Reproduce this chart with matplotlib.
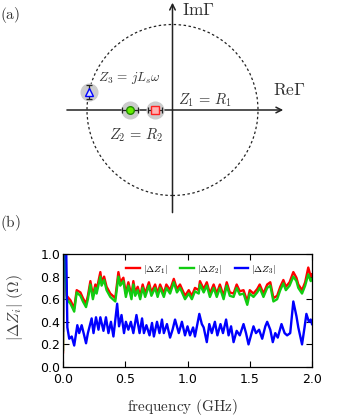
import matplotlib
matplotlib.use("Agg")
import matplotlib.pyplot as plt
from matplotlib.patches import Circle

plt.rcParams['mathtext.fontset'] = 'cm'
plt.rcParams['font.family'] = 'DejaVu Sans'

# (a) reflection coefficients of the three loads
gamma_re = [-0.205, -0.497, -0.977]
gamma_im = [0.0, 0.0, 0.21]
gamma_xerr = [0.08, 0.09, 0.0]
gamma_yerr = [0.0, 0.0, 0.08]
gamma_marker = ['s', 'o', '^']
gamma_face = ['#ffb0b0', '#66ee00', '#d8e0ff']
gamma_edge = ['#ff2020', '#228800', '#0000ff']

# (b) impedance deviation vs frequency
freq_z12 = [0.0, 0.004, 0.012, 0.03, 0.06, 0.09, 0.11, 0.14, 0.16, 0.185,
            0.2, 0.22, 0.24, 0.26, 0.27, 0.3, 0.31, 0.33, 0.35, 0.38,
            0.4, 0.42, 0.445, 0.46, 0.485, 0.505, 0.525, 0.55, 0.565, 0.58,
            0.6, 0.62, 0.64, 0.66, 0.69, 0.71, 0.74, 0.76, 0.78, 0.81,
            0.83, 0.86, 0.89, 0.915, 0.94, 0.98, 1.01, 1.035, 1.06, 1.09,
            1.1, 1.13, 1.155, 1.18, 1.21, 1.235, 1.26, 1.29, 1.315, 1.34,
            1.37, 1.395, 1.42, 1.45, 1.48, 1.5, 1.53, 1.56, 1.58, 1.61,
            1.64, 1.665, 1.69, 1.72, 1.745, 1.77, 1.79, 1.82, 1.85, 1.875,
            1.89, 1.92, 1.945, 1.97, 1.99, 2.0]
z1 = [0.13, 1.1, 1.1, 0.63, 0.59, 0.52, 0.68, 0.66, 0.61, 0.56,
      0.63, 0.76, 0.63, 0.73, 0.68, 0.84, 0.75, 0.8, 0.71, 0.65,
      0.63, 0.61, 0.84, 0.75, 0.79, 0.65, 0.75, 0.63, 0.76, 0.66,
      0.71, 0.63, 0.73, 0.65, 0.75, 0.66, 0.73, 0.65, 0.73, 0.65,
      0.73, 0.68, 0.78, 0.69, 0.73, 0.63, 0.68, 0.63, 0.7, 0.68,
      0.76, 0.69, 0.75, 0.65, 0.73, 0.65, 0.73, 0.63, 0.75, 0.66,
      0.65, 0.73, 0.67, 0.68, 0.58, 0.68, 0.65, 0.69, 0.73, 0.65,
      0.73, 0.75, 0.61, 0.63, 0.71, 0.77, 0.71, 0.75, 0.84, 0.79,
      0.73, 0.68, 0.75, 0.88, 0.8, 0.82]
z2 = [0.15, 1.1, 1.1, 0.6, 0.56, 0.49, 0.66, 0.63, 0.58, 0.53,
      0.6, 0.73, 0.6, 0.7, 0.65, 0.8, 0.72, 0.77, 0.68, 0.62,
      0.6, 0.58, 0.8, 0.72, 0.76, 0.62, 0.72, 0.6, 0.73, 0.63,
      0.68, 0.6, 0.7, 0.62, 0.72, 0.63, 0.7, 0.62, 0.7, 0.62,
      0.7, 0.65, 0.75, 0.66, 0.7, 0.6, 0.65, 0.6, 0.67, 0.65,
      0.73, 0.66, 0.72, 0.62, 0.7, 0.62, 0.7, 0.6, 0.72, 0.63,
      0.62, 0.7, 0.64, 0.65, 0.55, 0.65, 0.62, 0.66, 0.7, 0.62,
      0.7, 0.72, 0.58, 0.6, 0.68, 0.74, 0.68, 0.72, 0.8, 0.76,
      0.7, 0.65, 0.72, 0.82, 0.76, 0.78]
freq_z3 = [0.0, 0.004, 0.025, 0.035, 0.05, 0.07, 0.09, 0.115, 0.13, 0.15,
           0.17, 0.185, 0.2, 0.23, 0.245, 0.265, 0.285, 0.3, 0.325, 0.345,
           0.365, 0.385, 0.405, 0.435, 0.45, 0.47, 0.49, 0.505, 0.525, 0.545,
           0.565, 0.59, 0.615, 0.635, 0.65, 0.67, 0.695, 0.715, 0.73, 0.755,
           0.775, 0.795, 0.81, 0.835, 0.86, 0.88, 0.9, 0.93, 0.955, 0.98,
           1.0, 1.02, 1.045, 1.06, 1.095, 1.115, 1.13, 1.155, 1.175, 1.195,
           1.22, 1.24, 1.265, 1.285, 1.31, 1.33, 1.35, 1.37, 1.395, 1.42,
           1.45, 1.47, 1.49, 1.51, 1.53, 1.55, 1.575, 1.6, 1.625, 1.64,
           1.665, 1.685, 1.705, 1.725, 1.755, 1.78, 1.8, 1.825, 1.85, 1.875,
           1.89, 1.92, 1.94, 1.955, 1.975, 1.99, 2.0]
z3 = [0.32, 1.1, 1.1, 0.35, 0.25, 0.27, 0.19, 0.37, 0.3, 0.37,
      0.28, 0.21, 0.3, 0.43, 0.3, 0.44, 0.33, 0.44, 0.32, 0.44,
      0.3, 0.4, 0.27, 0.56, 0.36, 0.46, 0.3, 0.4, 0.33, 0.4,
      0.3, 0.46, 0.3, 0.43, 0.3, 0.37, 0.28, 0.39, 0.27, 0.4,
      0.3, 0.42, 0.3, 0.38, 0.26, 0.33, 0.42, 0.3, 0.4, 0.28,
      0.36, 0.28, 0.35, 0.27, 0.47, 0.38, 0.35, 0.22, 0.38, 0.3,
      0.4, 0.28, 0.38, 0.3, 0.42, 0.28, 0.36, 0.22, 0.32, 0.28,
      0.38, 0.3, 0.2, 0.28, 0.36, 0.3, 0.33, 0.25, 0.36, 0.4,
      0.33, 0.22, 0.3, 0.26, 0.38, 0.3, 0.28, 0.3, 0.58, 0.45,
      0.35, 0.2, 0.35, 0.47, 0.4, 0.42, 0.38]

W, H = 353, 416
fig = plt.figure(figsize=(W / 100, H / 100), dpi=100)

# ---- (a) sketch; 1 unit = 85.5 px, origin at pixel (172.5, 110)
r_px, cx, cy, top_h = 85.5, 172.5, 110, 215
axa = fig.add_axes([0, 1 - top_h / H, 1, top_h / H])
axa.set_xlim(-cx / r_px, (W - cx) / r_px)
axa.set_ylim(-(top_h - cy) / r_px, cy / r_px)
axa.axis('off')

ink = '#222222'
axa.annotate('', xy=(1.295, 0), xytext=(-1.235, 0),
             arrowprops=dict(arrowstyle='->', color=ink, lw=1.1,
                             shrinkA=0, shrinkB=0))
axa.annotate('', xy=(0, 1.255), xytext=(0, -1.2),
             arrowprops=dict(arrowstyle='->', color=ink, lw=1.1,
                             shrinkA=0, shrinkB=0), annotation_clip=False)
axa.add_patch(Circle((0, 0), 1.0, fill=False, ls=(0, (2, 2)), lw=0.9, color=ink))

for x, y, xe, ye, m, fc, ec in zip(gamma_re, gamma_im, gamma_xerr, gamma_yerr,
                                   gamma_marker, gamma_face, gamma_edge):
    axa.plot(x, y, 'o', ms=12, color='#cccccc', zorder=3)
    axa.errorbar(x, y, xerr=xe or None, yerr=ye or None, fmt='none',
                 ecolor=ink, elinewidth=0.9, capsize=2.5, capthick=0.9, zorder=4)
    axa.plot(x, y, m, ms=5.5, mfc=fc, mec=ec, mew=1.0, zorder=5)

serif = dict(color='#333333')
axa.text(0.11, 1.17, r'$\mathrm{Im}\Gamma$', fontsize=12.5, va='center', ha='left', **serif)
axa.text(1.175, 0.234, r'$\mathrm{Re}\Gamma$', fontsize=12.5, va='center', ha='left', **serif)
axa.text(0.06, 0.117, r'$Z_1\,=\,R_1$', fontsize=10.5, va='center', ha='left', **serif)
axa.text(-0.427, -0.292, r'$Z_2\,=\,R_2$', fontsize=10.5, va='center', ha='center', **serif)
axa.text(-0.51, 0.374, r'$Z_3\,=\,jL_s\omega$', fontsize=9.5, va='center', ha='center', **serif)
fig.text(0.0, 1 - 15 / H, r'$\mathrm{(a)}$', fontsize=11, va='center', ha='left', **serif)

# ---- (b) impedance deviation
axb = fig.add_axes([63 / W, 49 / H, 249 / W, 113 / H])
axb.plot(freq_z12, z1, color='#ff0000', lw=1.7, label=r'$|\Delta Z_1|$')
axb.plot(freq_z12, z2, color='#11cc11', lw=1.7, label=r'$|\Delta Z_2|$')
axb.plot(freq_z3, z3, color='#0000ff', lw=1.7, label=r'$|\Delta Z_3|$')
axb.set_xlim(0, 2)
axb.set_ylim(0, 1)
axb.set_xticks([0, 0.5, 1.0, 1.5, 2.0])
axb.set_yticks([0, 0.2, 0.4, 0.6, 0.8, 1.0])
axb.xaxis.set_major_formatter(matplotlib.ticker.FormatStrFormatter('%.1f'))
axb.yaxis.set_major_formatter(matplotlib.ticker.FormatStrFormatter('%.1f'))
axb.tick_params(direction='in', top=True, right=True, length=4, width=0.8,
                labelsize=9)
axb.tick_params(axis='x', pad=4)
axb.tick_params(axis='y', pad=2)
for s in axb.spines.values():
    s.set_linewidth(0.9)
axb.legend(loc='upper center', bbox_to_anchor=(0.555, 1.0), ncol=3, frameon=False,
           fontsize=7, handlelength=1.4, handletextpad=0.3, columnspacing=1.3,
           borderaxespad=0.5)

fig.text(15 / W, 1 - 308 / H, r'$|\Delta Z_i|\ (\Omega)$', fontsize=11.5,
         rotation=90, ha='center', va='center', color='#444444')
fig.text(183 / W, 1 - 407 / H, r'$\mathrm{frequency\ (GHz)}$', fontsize=11,
         ha='center', va='center', color='#333333')
fig.text(0.0, 1 - 223 / H, r'$\mathrm{(b)}$', fontsize=11, va='center', ha='left', **serif)

fig.savefig('out.png', dpi=100)
